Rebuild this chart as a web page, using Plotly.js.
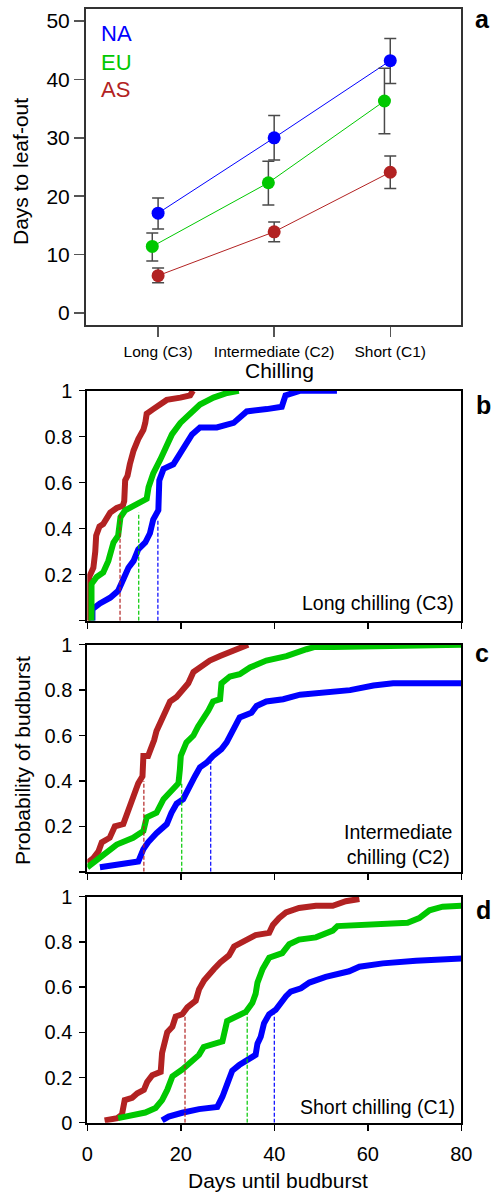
<!DOCTYPE html>
<html>
<head>
<meta charset="utf-8">
<script src="https://cdn.plot.ly/plotly-3.0.1.min.js"></script>
<style>html,body{margin:0;padding:0;background:#fff;}#chart{width:493px;height:1192px;}</style>
</head>
<body>
<div id="chart"></div>
<script>
// ---------- Panel a data ----------
const categories = ['Long (C3)', 'Intermediate (C2)', 'Short (C1)'];
const regions = ['NA', 'EU', 'AS'];
const naMean  = [17.1, 30.0, 43.2];
const naUpper = [19.7, 33.8, 47.0];
const naLower = [14.4, 26.2, 39.3];
const euMean  = [11.4, 22.3, 36.3];
const euUpper = [13.7, 26.0, 41.9];
const euLower = [8.9, 18.5, 30.7];
const asMean  = [6.4, 13.9, 24.1];
const asUpper = [7.7, 15.6, 26.9];
const asLower = [5.2, 12.2, 21.3];

// ---------- Panel b (long chilling C3) ----------
const bAsDays = [0, 0.2, 0.4, 1.3, 1.7, 1.9, 2.6, 3.4, 4.9, 6.3, 7.6, 7.9, 8.1, 8.6, 9.1, 9.9, 10.9, 12.0, 12.4, 12.7, 14.1, 15.6, 17.0, 19.9, 22.0, 22.6];
const bAsProb = [0, 0.01, 0.19, 0.23, 0.30, 0.37, 0.41, 0.42, 0.47, 0.49, 0.50, 0.52, 0.61, 0.63, 0.68, 0.74, 0.79, 0.83, 0.86, 0.90, 0.92, 0.94, 0.96, 0.97, 0.98, 1.0];
const bEuDays = [0.9, 0.9, 2.0, 3.4, 4.5, 5.6, 6.6, 7.1, 8.1, 9.9, 11.3, 12.7, 13.1, 14.1, 15.6, 17.0, 18.1, 19.9, 22.0, 24.1, 27.0, 29.9, 32.4];
const bEuProb = [0, 0.16, 0.19, 0.21, 0.26, 0.34, 0.37, 0.45, 0.48, 0.50, 0.51, 0.53, 0.58, 0.64, 0.70, 0.76, 0.81, 0.86, 0.90, 0.94, 0.97, 0.99, 1.0];
const bNaDays = [1.1, 1.1, 2.7, 4.9, 6.6, 7.6, 8.8, 9.9, 10.9, 12.4, 13.4, 14.1, 15.2, 15.4, 16.3, 18.4, 19.9, 21.3, 22.4, 24.1, 27.7, 31.3, 33.1, 34.1, 38.4, 41.6, 42.4, 45.6, 53.4];
const bNaProb = [0, 0.05, 0.075, 0.10, 0.13, 0.18, 0.23, 0.26, 0.31, 0.34, 0.38, 0.44, 0.48, 0.61, 0.66, 0.68, 0.73, 0.77, 0.81, 0.84, 0.84, 0.86, 0.89, 0.91, 0.92, 0.93, 0.98, 1.0, 1.0];
const bMedDays = [7.0, 11.0, 15.1];   // AS, EU, NA
const bMedProb = [0.46, 0.47, 0.44];

// ---------- Panel c (intermediate chilling C2) ----------
const cAsDays = [0, 1.3, 2.4, 3.1, 4.8, 5.9, 7.7, 8.8, 9.8, 10.9, 11.8, 12.0, 13.0, 13.8, 14.3, 14.8, 15.9, 16.6, 17.7, 19.1, 20.5, 21.6, 22.7, 24.1, 26.2, 28.4, 30.5, 32.6, 34.4];
const cAsProb = [0.04, 0.06, 0.09, 0.13, 0.15, 0.20, 0.21, 0.27, 0.33, 0.39, 0.42, 0.51, 0.51, 0.55, 0.58, 0.62, 0.67, 0.71, 0.75, 0.77, 0.80, 0.83, 0.88, 0.90, 0.93, 0.95, 0.97, 0.99, 1.0];
const cEuDays = [0, 1.3, 3.4, 6.3, 9.8, 12.0, 12.7, 14.8, 16.3, 17.7, 19.5, 19.8, 20.0, 21.2, 22.7, 23.7, 24.8, 25.9, 26.9, 28.4, 28.7, 30.5, 32.6, 34.8, 38.3, 42.6, 46.9, 48.7, 52.6, 66.0, 80];
const cEuProb = [0.02, 0.04, 0.08, 0.12, 0.15, 0.18, 0.24, 0.26, 0.32, 0.35, 0.39, 0.45, 0.51, 0.57, 0.60, 0.64, 0.67, 0.71, 0.75, 0.76, 0.83, 0.86, 0.87, 0.90, 0.93, 0.95, 0.98, 0.99, 0.99, 0.995, 1.0];
const cNaDays = [2.7, 6.3, 10.9, 12.0, 13.0, 14.8, 17.0, 18.0, 19.1, 20.5, 21.6, 23.0, 24.1, 25.5, 26.9, 28.7, 29.8, 30.9, 31.6, 32.6, 35.1, 36.2, 38.3, 41.9, 45.5, 49.7, 56.2, 61.2, 65.4, 74.0, 80];
const cNaProb = [0.02, 0.03, 0.045, 0.10, 0.13, 0.17, 0.21, 0.26, 0.30, 0.32, 0.37, 0.42, 0.46, 0.48, 0.51, 0.54, 0.57, 0.61, 0.64, 0.68, 0.70, 0.73, 0.75, 0.76, 0.78, 0.79, 0.80, 0.82, 0.83, 0.83, 0.83];
const cMedDays = [12.1, 20.2, 26.4];
const cMedProb = [0.40, 0.39, 0.485];

// ---------- Panel d (short chilling C1) ----------
const dAsDays = [3.7, 6.4, 7.4, 8.0, 9.6, 10.7, 12.1, 12.8, 13.9, 15.7, 16.0, 16.7, 17.1, 18.2, 18.9, 20.3, 21.4, 23.2, 23.9, 25.0, 26.0, 27.1, 28.5, 30.3, 31.4, 33.2, 36.0, 38.9, 39.7, 41.0, 42.5, 45.3, 48.9, 52.5, 53.9, 55.3, 58.2];
const dAsProb = [0.01, 0.02, 0.035, 0.10, 0.11, 0.13, 0.145, 0.18, 0.21, 0.225, 0.31, 0.37, 0.40, 0.425, 0.47, 0.48, 0.51, 0.54, 0.59, 0.63, 0.65, 0.68, 0.71, 0.74, 0.78, 0.80, 0.83, 0.84, 0.875, 0.905, 0.93, 0.95, 0.96, 0.96, 0.97, 0.98, 0.99];
const dEuDays = [6.6, 9.6, 12.4, 14.6, 16.0, 17.1, 18.2, 20.3, 22.1, 23.9, 24.9, 26.7, 28.9, 29.9, 31.7, 33.9, 35.3, 36.0, 36.4, 37.5, 38.9, 41.7, 43.2, 45.3, 48.9, 52.5, 53.5, 59.6, 63.2, 68.5, 71.0, 73.2, 76.0, 80];
const dEuProb = [0.02, 0.035, 0.045, 0.065, 0.10, 0.145, 0.205, 0.235, 0.27, 0.30, 0.335, 0.345, 0.36, 0.45, 0.47, 0.49, 0.53, 0.57, 0.62, 0.68, 0.73, 0.75, 0.79, 0.81, 0.82, 0.85, 0.87, 0.875, 0.88, 0.885, 0.905, 0.94, 0.956, 0.96];
const dNaDays = [16.0, 17.4, 20.3, 23.9, 27.8, 28.9, 30.0, 31.0, 32.5, 34.2, 36.0, 36.4, 37.1, 37.8, 38.9, 40.3, 41.4, 42.5, 43.5, 45.7, 47.5, 51.0, 56.0, 58.2, 63.2, 70.3, 80];
const dNaProb = [0.01, 0.027, 0.044, 0.06, 0.07, 0.115, 0.175, 0.23, 0.255, 0.28, 0.30, 0.35, 0.38, 0.44, 0.48, 0.50, 0.535, 0.56, 0.58, 0.595, 0.62, 0.645, 0.67, 0.69, 0.705, 0.717, 0.726];
const dMedDays = [20.9, 34.2, 40.0];
const dMedProb = [0.48, 0.50, 0.48];

const dayTicks = [0, 20, 40, 60, 80];
const probTicks = [0, 0.2, 0.4, 0.6, 0.8, 1];
const probLabels = ['0', '0.2', '0.4', '0.6', '0.8', '1'];
const leafTicks = [0, 10, 20, 30, 40, 50];

// ---------- style ----------
const W = 493, H = 1192;
const FONT = 'Liberation Sans, Arial, Helvetica, sans-serif';
const COL = {NA: '#0000ff', EU: '#00c800', AS: '#b22222'};
const px = x => x / W;
const py = y => 1 - y / H;

const traces = [];
// Panel a
const aSeries = [
  {name: 'NA', m: naMean, u: naUpper, l: naLower, off: 0},
  {name: 'EU', m: euMean, u: euUpper, l: euLower, off: -0.05},
  {name: 'AS', m: asMean, u: asUpper, l: asLower, off: 0}
];
aSeries.forEach(s => {
  traces.push({
    type: 'scatter', mode: 'lines+markers', xaxis: 'x', yaxis: 'y',
    x: categories.map((c, i) => i + s.off), y: s.m,
    line: {color: COL[s.name], width: 1},
    marker: {color: COL[s.name], size: 13},
    error_y: {type: 'data', symmetric: false,
      array: s.u.map((v, i) => v - s.m[i]),
      arrayminus: s.m.map((v, i) => v - s.l[i]),
      color: '#4a4a4a', thickness: 1.5, width: 6},
    showlegend: false, hoverinfo: 'skip'
  });
});

function cdfPanel(ax, ay, series, medDays, medProb) {
  series.forEach(s => {
    traces.push({type: 'scatter', mode: 'lines', xaxis: ax, yaxis: ay,
      x: s.x, y: s.y, line: {color: COL[s.name], width: 6},
      showlegend: false, hoverinfo: 'skip'});
  });
  ['AS', 'EU', 'NA'].forEach((n, i) => {
    traces.push({type: 'scatter', mode: 'lines', xaxis: ax, yaxis: ay,
      x: [medDays[i], medDays[i]], y: [0, medProb[i]],
      line: {color: COL[n], width: 1.2, dash: '4px,2px'},
      showlegend: false, hoverinfo: 'skip'});
  });
}
cdfPanel('x2', 'y2', [
  {name: 'NA', x: bNaDays, y: bNaProb},
  {name: 'AS', x: bAsDays, y: bAsProb},
  {name: 'EU', x: bEuDays, y: bEuProb}], bMedDays, bMedProb);
cdfPanel('x3', 'y3', [
  {name: 'NA', x: cNaDays, y: cNaProb},
  {name: 'AS', x: cAsDays, y: cAsProb},
  {name: 'EU', x: cEuDays, y: cEuProb}], cMedDays, cMedProb);
cdfPanel('x4', 'y4', [
  {name: 'NA', x: dNaDays, y: dNaProb},
  {name: 'AS', x: dAsDays, y: dAsProb},
  {name: 'EU', x: dEuDays, y: dEuProb}], dMedDays, dMedProb);

const xdom = [px(87.3), px(461.3)];
function dayAxis(anchor, dom, labels) {
  return {anchor: anchor, domain: dom, range: [0, 80], tickvals: dayTicks,
    showticklabels: labels, ticks: 'outside', ticklen: 6, tickwidth: 1.5, tickcolor: '#000',
    showline: true, mirror: true, linecolor: '#000', linewidth: 2,
    showgrid: false, zeroline: false, tickfont: {size: 20, color: '#000'}, ticklabelstandoff: 6};
}
function probAxis(anchor, dom, showZero) {
  return {anchor: anchor, domain: dom, range: [0, 1], tickvals: probTicks,
    ticktext: probLabels.map((t, i) => (i === 0 && !showZero) ? '' : t),
    ticks: 'outside', ticklen: 6, tickwidth: 1.5, tickcolor: '#000',
    showline: true, mirror: true, linecolor: '#000', linewidth: 2,
    showgrid: false, zeroline: false, tickfont: {size: 20, color: '#000'}, ticklabelstandoff: 3};
}

const layout = {
  width: W, height: H, margin: {l: 0, r: 0, t: 0, b: 0},
  paper_bgcolor: '#fff', plot_bgcolor: '#fff',
  font: {family: FONT, color: '#000'},
  showlegend: false,
  xaxis: {anchor: 'y', domain: [px(86), px(461.3)], range: [-0.621, 2.612],
    tickvals: [0, 1, 2], ticktext: categories, ticks: 'outside', ticklen: 10, tickwidth: 1.5,
    tickcolor: '#555', showline: true, mirror: true, linecolor: '#333', linewidth: 2,
    showgrid: false, zeroline: false, tickfont: {size: 15.5, color: '#000'}, ticklabelstandoff: 1},
  yaxis: {anchor: 'x', domain: [py(325), py(9.3)], range: [-2.05, 52], tickvals: leafTicks,
    ticks: 'outside', ticklen: 10, tickwidth: 1.5, tickcolor: '#555',
    showline: true, mirror: true, linecolor: '#333', linewidth: 2,
    showgrid: false, zeroline: false, tickfont: {size: 21, color: '#000'}, ticklabelstandoff: 0},
  xaxis2: dayAxis('y2', xdom, false),
  yaxis2: probAxis('x2', [py(620.7), py(390.7)], false),
  xaxis3: dayAxis('y3', xdom, false),
  yaxis3: probAxis('x3', [py(871.8), py(644.7)], false),
  xaxis4: dayAxis('y4', xdom, true),
  yaxis4: probAxis('x4', [py(1122.7), py(896.7)], true),
  annotations: [
    {text: 'Days to leaf-out', x: px(21), y: py(172), textangle: -90, font: {size: 21}},
    {text: 'Chilling', x: px(279), y: py(371), font: {size: 21}},
    {text: 'NA', x: px(99), y: py(34), xanchor: 'left', font: {size: 22, color: COL.NA}},
    {text: 'EU', x: px(99), y: py(62), xanchor: 'left', font: {size: 22, color: COL.EU}},
    {text: 'AS', x: px(99), y: py(89), xanchor: 'left', font: {size: 22, color: COL.AS}},
    {text: '<b>a</b>', x: px(482), y: py(19), font: {size: 25}},
    {text: '<b>b</b>', x: px(483), y: py(405), font: {size: 25}},
    {text: '<b>c</b>', x: px(482), y: py(653), font: {size: 25}},
    {text: '<b>d</b>', x: px(483), y: py(910), font: {size: 25}},
    {text: 'Long chilling (C3)', x: px(456), y: py(603), xanchor: 'right', font: {size: 19.5}},
    {text: 'Intermediate<br>chilling (C2)', x: px(398), y: py(844), align: 'center', font: {size: 19.5}},
    {text: 'Short chilling (C1)', x: px(457), y: py(1107), xanchor: 'right', font: {size: 19.5}},
    {text: 'Probability of budburst', x: px(22), y: py(761), textangle: -90, font: {size: 21}},
    {text: 'Days until budburst', x: px(278), y: py(1180), font: {size: 21}}
  ].map(a => Object.assign({xref: 'paper', yref: 'paper', showarrow: false,
    xanchor: 'center', yanchor: 'middle'}, a))
};

Plotly.newPlot('chart', traces, layout, {displayModeBar: false, staticPlot: true});
</script>
</body>
</html>
